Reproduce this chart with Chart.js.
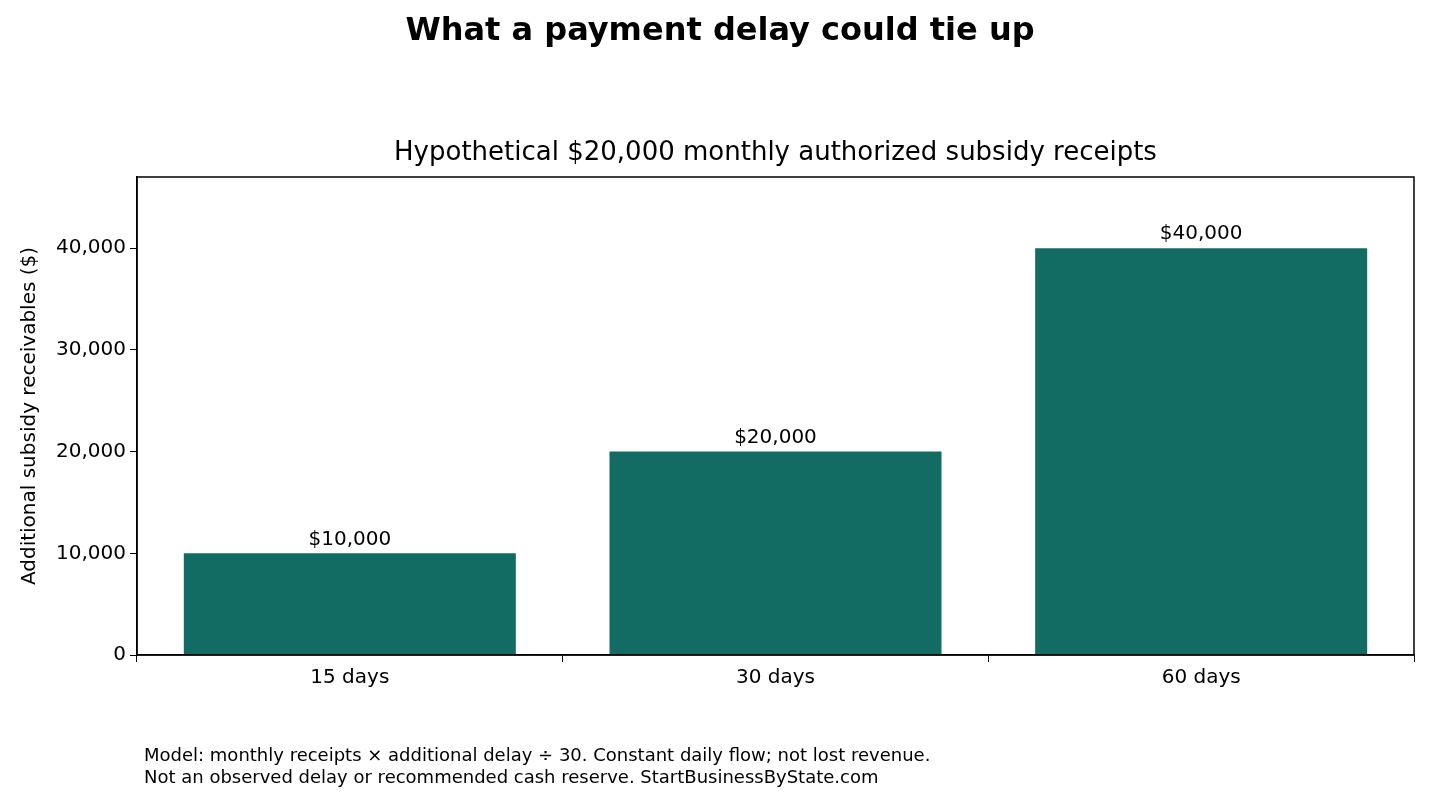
<!DOCTYPE html>
<html>
<head>
<meta charset="utf-8">
<script src="https://cdn.jsdelivr.net/npm/chart.js@4"></script>
<style>
  body { margin: 0; background: #fff; }
  #wrap { width: 1440px; height: 800px; }
</style>
</head>
<body>
<div id="wrap"><canvas id="chart" width="1440" height="800"></canvas></div>
<script>
const categories = ['15 days', '30 days', '60 days'];
const receivables = [10000, 20000, 40000];
const valueLabels = ['$10,000', '$20,000', '$40,000'];
const yTicks = [0, 10000, 20000, 30000, 40000];

const font = "'DejaVu Sans', sans-serif";

// titles, footer, bar labels and the frame around the plot
const extras = {
  id: 'extras',
  afterDraw(chart) {
    const ctx = chart.ctx;
    const area = chart.chartArea;
    ctx.save();
    ctx.fillStyle = '#000';
    ctx.textAlign = 'center';
    ctx.textBaseline = 'middle';
    ctx.font = `bold 32px ${font}`;
    ctx.fillText('What a payment delay could tie up', 720, 32);
    ctx.font = `26px ${font}`;
    ctx.fillText('Hypothetical $20,000 monthly authorized subsidy receipts', (area.left + area.right) / 2, 153);

    ctx.font = `20px ${font}`;
    ctx.textBaseline = 'bottom';
    chart.getDatasetMeta(0).data.forEach((bar, i) => {
      ctx.fillText(valueLabels[i], bar.x, bar.y - 4);
    });

    ctx.textAlign = 'left';
    ctx.textBaseline = 'middle';
    ctx.font = `18px ${font}`;
    ctx.fillText('Model: monthly receipts \u00d7 additional delay \u00f7 30. Constant daily flow; not lost revenue.', 144, 756);
    ctx.fillText('Not an observed delay or recommended cash reserve. StartBusinessByState.com', 144, 778);

    ctx.strokeStyle = '#000';
    ctx.lineWidth = 1.5;
    ctx.strokeRect(area.left, area.top, area.right - area.left, area.bottom - area.top);
    ctx.restore();
  }
};

new Chart(document.getElementById('chart'), {
  type: 'bar',
  data: {
    labels: categories,
    datasets: [{
      data: receivables,
      backgroundColor: '#136c63',
      barPercentage: 0.78,
      categoryPercentage: 1.0
    }]
  },
  options: {
    responsive: false,
    animation: false,
    layout: { padding: { top: 177, bottom: 106, left: 14, right: 26 } },
    plugins: { legend: { display: false }, tooltip: { enabled: false } },
    scales: {
      x: {
        grid: { display: true, drawOnChartArea: false, drawTicks: true, tickLength: 7, color: '#000' },
        border: { color: '#000', width: 1.5 },
        ticks: { color: '#000', font: { family: font, size: 20 }, padding: 4 }
      },
      y: {
        min: 0,
        max: 47000,
        afterBuildTicks: axis => { axis.ticks = yTicks.map(v => ({ value: v })); },
        grid: { display: true, drawOnChartArea: false, drawTicks: true, tickLength: 7, color: '#000' },
        border: { color: '#000', width: 1.5 },
        ticks: { color: '#000', font: { family: font, size: 20 }, padding: 4 },
        title: {
          display: true,
          text: 'Additional subsidy receivables ($)',
          color: '#000',
          font: { family: font, size: 20 },
          padding: { bottom: 10 }
        }
      }
    }
  },
  plugins: [extras]
});
</script>
</body>
</html>
